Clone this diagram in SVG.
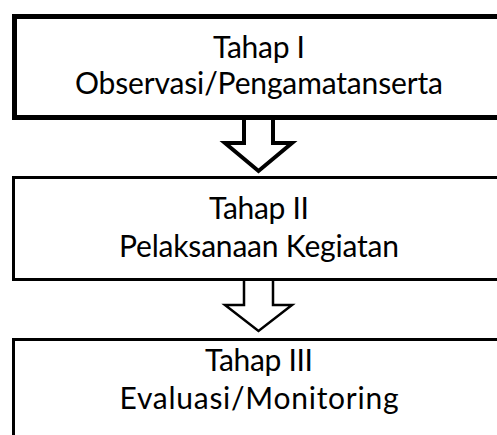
<svg xmlns="http://www.w3.org/2000/svg" width="497" height="435" viewBox="0 0 497 435">
<style>
.box{fill:#fff;stroke:#000}
.t{font-family:Lato,"Liberation Sans",sans-serif;font-size:30px;fill:#000;text-anchor:middle}
.arr{fill:#fff;stroke:#000;stroke-linejoin:miter}
</style>
<rect width="497" height="435" fill="#fff"/>
<g id="connectors">
<path class="arr" stroke-width="4" d="M244,118 L244,143 L225,143 L258.5,171 L292,143 L273,143 L273,118"/>
<path class="arr" stroke-width="2.5" d="M244,280 L244,305 L225,305 L258.5,331 L292,305 L273,305 L273,280"/>
</g>
<g id="node1">
<rect class="box" x="14.5" y="16.5" width="500" height="101" stroke-width="5"/>
<text class="t" x="259" y="58" textLength="92">Tahap I</text>
<text class="t" x="259" y="94" textLength="368">Observasi/Pengamatanserta</text>
</g>
<g id="node2">
<rect class="box" x="13.5" y="177.5" width="500" height="102" stroke-width="3"/>
<text class="t" x="259" y="219" textLength="100">Tahap II</text>
<text class="t" x="259" y="257" textLength="280">Pelaksanaan Kegiatan</text>
</g>
<g id="node3">
<rect class="box" x="13.5" y="339.5" width="500" height="120" stroke-width="3"/>
<text class="t" x="259" y="371" textLength="108">Tahap III</text>
<text class="t" x="259" y="409" textLength="279">Evaluasi/Monitoring</text>
</g>
</svg>
